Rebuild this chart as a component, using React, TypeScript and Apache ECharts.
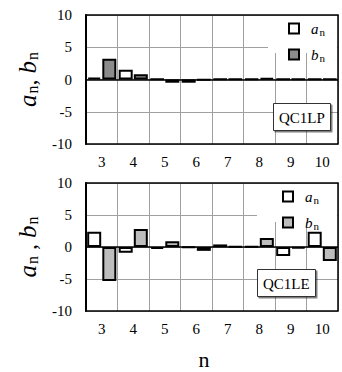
import React, { useEffect, useRef } from "react";
import * as echarts from "echarts";

const categories = ["3", "4", "5", "6", "7", "8", "9", "10"];
const lpA = [0.3, 1.5, 0.05, -0.5, 0.05, 0.1, 0.05, 0.05];
const lpB = [3.2, 0.8, -0.5, -0.05, 0.05, 0.2, 0.05, 0.05];
const leA = [2.4, -0.9, -0.3, -0.1, 0.4, 0.1, -1.4, 2.4];
const leB = [-5.3, 2.8, 0.9, -0.6, 0.1, 1.4, -0.2, -2.2];
const yTicks = { min: -10, max: 10, interval: 5 };
const xTitle = "n";

const SERIF = "Liberation Serif";

export default function App() {
  const ref = useRef<HTMLDivElement>(null);
  useEffect(() => {
    if (!ref.current) return;
    const chart = echarts.init(ref.current, null, { renderer: "svg" });
    const legendRich = {
      i: { fontFamily: SERIF, fontStyle: "italic", fontSize: 15, color: "#000", padding: [0, 0, 0, 7] },
      s: { fontFamily: SERIF, fontSize: 11, color: "#000", padding: [6, 0, 0, 1] },
    };
    const nameRich = {
      i: { fontFamily: SERIF, fontStyle: "italic", fontSize: 25, color: "#000" },
      s: { fontFamily: SERIF, fontSize: 16, color: "#000", padding: [9, 0, 0, 1] },
      c: { fontFamily: SERIF, fontSize: 24, color: "#000" },
    };
    const legendFmt = (name: string) => (name[0] === "a" ? "{i|a}{s|n}" : "{i|b}{s|n}");
    const mkX = (gi: number) => ({
      type: "category",
      gridIndex: gi,
      data: categories,
      axisLine: { show: false },
      axisTick: { show: false },
      axisLabel: { fontFamily: SERIF, fontSize: 15, color: "#000", margin: 10 },
      splitLine: { show: true, lineStyle: { color: "#a0a0a0", width: 1 } },
    });
    const mkY = (gi: number, name: string) => ({
      type: "value",
      gridIndex: gi,
      min: yTicks.min,
      max: yTicks.max,
      interval: yTicks.interval,
      axisLine: { show: true, lineStyle: { color: "#000", width: 2 } },
      axisTick: { show: false },
      axisLabel: { fontFamily: SERIF, fontSize: 15, color: "#000", margin: 14 },
      splitLine: { show: true, lineStyle: { color: "#a0a0a0", width: 1 } },
      name,
      nameLocation: "middle",
      nameRotate: 90,
      nameGap: 46,
      nameTextStyle: { fontFamily: SERIF, rich: nameRich },
    });
    const zeroLine = {
      silent: true,
      symbol: "none",
      label: { show: false },
      lineStyle: { color: "#000", width: 1.5, type: "solid" },
      data: [{ yAxis: 0 }],
    };
    const bar = (name: string, data: number[], gi: number, fill: string, ml = false) => ({
      type: "bar",
      name,
      xAxisIndex: gi,
      yAxisIndex: gi,
      data,
      barWidth: 14,
      barGap: "8%",
      itemStyle: { color: fill, borderColor: "#000", borderWidth: 2 },
      ...(ml ? { markLine: zeroLine } : {}),
    });
    const titleBox = (text: string, left: number, top: number) => ({
      text,
      left,
      top,
      padding: [7, 6, 6, 6],
      borderWidth: 1,
      borderColor: "#333",
      backgroundColor: "#fff",
      shadowColor: "rgba(0,0,0,0.5)",
      shadowOffsetX: 1.5,
      shadowOffsetY: 1.5,
      shadowBlur: 0,
      textStyle: { fontFamily: SERIF, fontSize: 15, fontWeight: "normal", color: "#000" },
    });
    const legendBase = {
      orient: "vertical",
      icon: "rect",
      itemWidth: 10,
      itemHeight: 10,
      itemGap: 10,
      padding: 0,
      formatter: legendFmt,
      textStyle: { fontFamily: SERIF, rich: legendRich },
    };
    const gridBase = { show: true, borderColor: "#000", borderWidth: 1.5, z: 3, containLabel: false, outerBoundsMode: "none" };
    chart.setOption({
      animation: false,
      backgroundColor: "#fff",
      textStyle: { fontFamily: SERIF },
      grid: [
        { ...gridBase, left: 86, top: 15, width: 252, height: 129 },
        { ...gridBase, left: 86, top: 183, width: 252, height: 128 },
      ],
      xAxis: [mkX(0), mkX(1)],
      yAxis: [mkY(0, "{i|a}{s|n}{c|, }{i|b}{s|n}"), mkY(1, "{i|a}{s|n}{c| , }{i|b}{s|n}")],
      graphic: [
        { type: "rect", z: 1, shape: { x: 268, y: 16, width: 69, height: 37 }, style: { fill: "#fff" } },
        { type: "rect", z: 1, shape: { x: 257, y: 184, width: 80, height: 38 }, style: { fill: "#fff" } },
        {
          type: "text",
          z: 5,
          x: 204,
          y: 359,
          style: {
            text: xTitle,
            fill: "#000",
            font: "22px 'Liberation Serif'",
            align: "center",
            verticalAlign: "middle",
          },
        },
      ],
      legend: [
        { ...legendBase, data: ["a", "b"], left: 288, top: 21 },
        { ...legendBase, data: ["a2", "b2"], left: 282, top: 189 },
      ],
      title: [titleBox("QC1LP", 273, 103), titleBox("QC1LE", 257, 269)],
      series: [
        bar("a", lpA, 0, "#fff", true),
        bar("b", lpB, 0, "#8c8c8c"),
        bar("a2", leA, 1, "#fff", true),
        bar("b2", leB, 1, "#bdbdbd"),
      ],
    });
    return () => chart.dispose();
  }, []);
  return <div ref={ref} style={{ position: "absolute", left: 0, top: 0, width: 342, height: 372 }} />;
}
